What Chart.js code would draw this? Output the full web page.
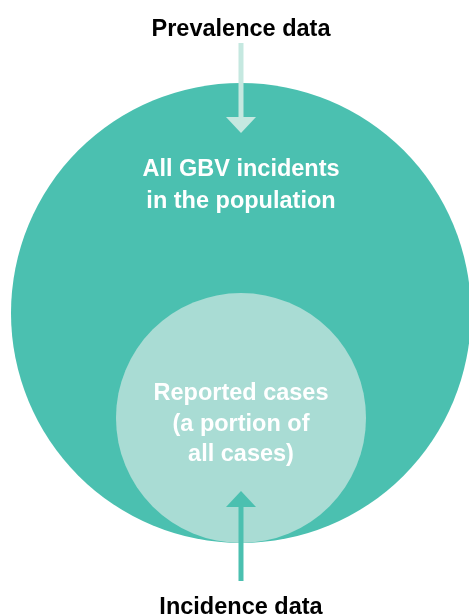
<!DOCTYPE html>
<html>
<head>
<meta charset="utf-8">
<script src="https://cdn.jsdelivr.net/npm/chart.js@4.4.1/dist/chart.umd.min.js"></script>
<style>
  html, body { margin: 0; padding: 0; background: #fff; }
  #wrap { width: 469px; height: 616px; position: relative; }
</style>
</head>
<body>
<div id="wrap"><canvas id="gbvChart"></canvas></div>
<script>
// Circles: whole population vs reported cases (big circle radius = 100 units)
const circleNames = ['All GBV incidents in the population', 'Reported cases (a portion of all cases)'];
const circleSize = [100, 54.35];
const circleCenterY = [0, -45.65];

// Labels
const circleLabels = [
  ['All GBV incidents', 'in the population'],
  ['Reported cases', '(a portion of', 'all cases)']
];
const topLabel = 'Prevalence data';
const bottomLabel = 'Incidence data';

// Arrows (shaft start, head base, tip) in the same units
const prevalenceArrow = [117.4, 85.2, 78.26];
const incidenceArrow = [-116.52, -84.35, -77.39];
const arrowHalfWidth = 6.52;

const TEAL = '#4bc0b0';
const LIGHT = '#a9dcd4';
const PALE = '#c5e8e0';

function unitToPx(chart, v) {
  const s = chart.scales.x;
  return Math.abs(s.getPixelForValue(v) - s.getPixelForValue(0));
}

function arrowSets(arr, color, order) {
  return [
    {
      type: 'line',
      data: [{ x: 0, y: arr[0] }, { x: 0, y: arr[1] }],
      borderColor: color,
      borderWidth: 5,
      borderCapStyle: 'butt',
      pointRadius: 0,
      fill: false,
      order: order
    },
    {
      type: 'line',
      data: [{ x: -arrowHalfWidth, y: arr[1] }, { x: 0, y: arr[2] }, { x: arrowHalfWidth, y: arr[1] }],
      borderWidth: 0,
      borderColor: 'rgba(0,0,0,0)',
      backgroundColor: color,
      pointRadius: 0,
      tension: 0,
      fill: { value: arr[1] },
      order: order
    }
  ];
}

const textPlugin = {
  id: 'textPlugin',
  afterDatasetsDraw(chart) {
    const ctx = chart.ctx;
    const x = chart.scales.x, y = chart.scales.y;
    ctx.save();
    ctx.textAlign = 'center';
    ctx.textBaseline = 'alphabetic';
    ctx.font = 'bold 23.5px "Liberation Sans", Arial, sans-serif';
    const cx = x.getPixelForValue(0);

    ctx.fillStyle = '#000';
    ctx.fillText(topLabel, cx, y.getPixelForValue(120.4));
    ctx.fillText(bottomLabel, cx, y.getPixelForValue(-130.87));

    ctx.fillStyle = '#fff';
    const starts = [59.57, -37.83];
    const gaps = [13.92, 13.26];
    circleLabels.forEach((lines, i) => {
      lines.forEach((t, j) => {
        ctx.fillText(t, cx, y.getPixelForValue(starts[i] - gaps[i] * j));
      });
    });
    ctx.restore();
  }
};

const circleRadius = (c) => (c.raw ? unitToPx(c.chart, c.raw.size) : 0);

new Chart(document.getElementById('gbvChart'), {
  type: 'scatter',
  data: {
    datasets: [
      ...arrowSets(incidenceArrow, TEAL, 0),
      ...arrowSets(prevalenceArrow, PALE, 1),
      {
        type: 'scatter',
        label: 'circles',
        data: circleNames.map((n, i) => ({ x: 0, y: circleCenterY[i], size: circleSize[i], name: n })),
        backgroundColor: [TEAL, LIGHT],
        pointBackgroundColor: [TEAL, LIGHT],
        pointBorderWidth: 0,
        pointRadius: circleRadius,
        pointHoverRadius: circleRadius,
        showLine: false,
        clip: false,
        order: 5
      }
    ]
  },
  options: {
    responsive: true,
    maintainAspectRatio: false,
    animation: false,
    events: [],
    layout: { padding: 0 },
    plugins: {
      legend: { display: false },
      tooltip: { enabled: false }
    },
    scales: {
      x: { type: 'linear', display: false, min: -104.78, max: 99.13 },
      y: { type: 'linear', display: false, min: -131.74, max: 136.09 }
    }
  },
  plugins: [textPlugin]
});
</script>
</body>
</html>
